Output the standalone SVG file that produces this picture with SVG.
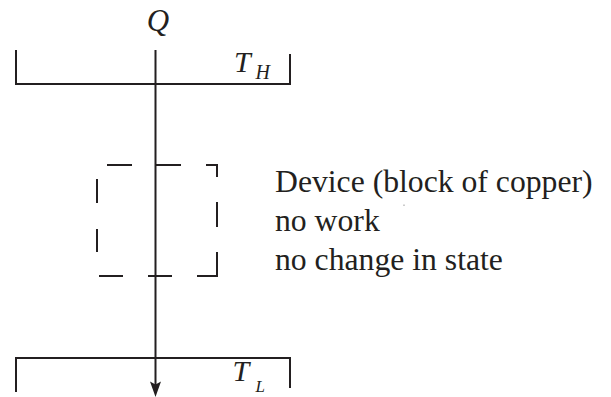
<svg xmlns="http://www.w3.org/2000/svg" width="611" height="397" viewBox="0 0 611 397">
<style>
.ln{fill:none;stroke:#231f20;stroke-width:2}
text{font-family:'Liberation Serif','DejaVu Serif',serif;fill:#231f20}
.it{font-style:italic}
.tx{font-size:31.7px}
</style>
<rect width="611" height="397" fill="#fff"/>
<g id="hot">
<path class="ln" d="M16,50 V84 H290 V54"/>
<text class="it" x="234" y="72" font-size="30">T</text>
<text class="it" x="255.5" y="78.5" font-size="20">H</text>
</g>
<g id="cold">
<path class="ln" d="M16,392 V358 H290 V388"/>
<text class="it" x="232.5" y="381" font-size="30">T</text>
<text class="it" x="255.5" y="391.5" font-size="17">L</text>
</g>
<g id="device">
<path class="ln" d="M107,165H132M156,165H181M206,165H217V177M217,202V227M217,252V276H197M172,276H148M123,276H99M97,252V229M97,203V179"/>
</g>
<g id="label">
<text class="tx" x="275" y="192">Device (block of copper)</text>
<text class="tx" x="275" y="231">no work</text>
<text class="tx" x="275" y="270">no change in state</text>
<rect x="403.5" y="204.5" width="1" height="1.5" fill="#999"/>
</g>
<g id="connectors">
<text class="it" x="158" y="31" font-size="31" text-anchor="middle">Q</text>
<path class="ln" d="M155.5,50 V386"/>
<path d="M155.5,397 L150,381.5 L155.5,384.5 L161,381.5 Z" fill="#231f20"/>
</g>
</svg>
